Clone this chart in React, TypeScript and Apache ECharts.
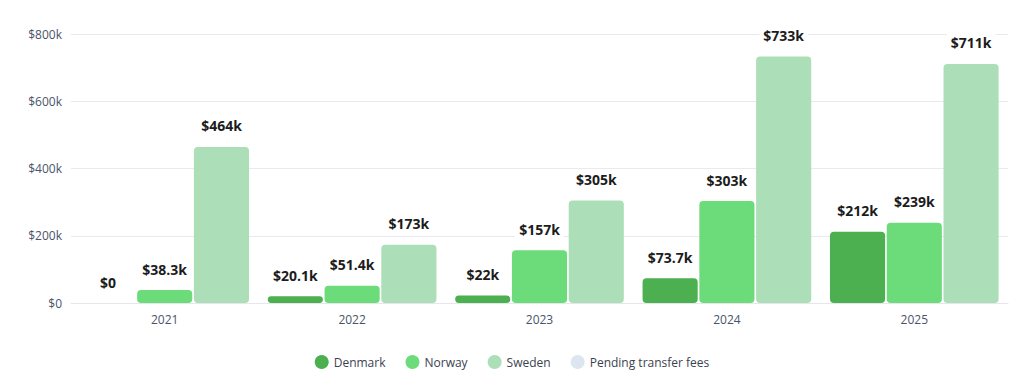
import React, { useEffect, useRef } from "react";
import * as echarts from "echarts";

const years = ["2021", "2022", "2023", "2024", "2025"];
const denmark = [0, 20100, 22000, 73700, 212000];
const norway = [38300, 51400, 157000, 303000, 239000];
const sweden = [464000, 173000, 305000, 733000, 711000];
const pending: (number | null)[] = [null, null, null, null, null];
const yTicks = [0, 200000, 400000, 600000, 800000];

const FONT = "'Open Sans', 'Noto Sans', sans-serif";

function fmt(v: number): string {
  if (v === 0) return "$0";
  const k = v / 1000;
  const s = parseFloat(k.toPrecision(3)).toString();
  return "$" + s + "k";
}

const label = {
  show: true,
  position: "top" as const,
  distance: 12,
  formatter: (p: any) => fmt(p.value),
  fontFamily: FONT,
  fontSize: 14,
  fontWeight: "bold" as const,
  color: "#1c1c1c",
  backgroundColor: "#ffffff",
  padding: [2, 4],
};

export default function App() {
  const ref = useRef<HTMLDivElement>(null);
  useEffect(() => {
    if (!ref.current) return;
    const chart = echarts.init(ref.current, undefined, { renderer: "svg" });
    chart.setOption({
      animation: false,
      grid: { left: 63, right: 8, top: 26, bottom: 75 },
      legend: {
        bottom: 4,
        left: "center",
        icon: "circle",
        itemWidth: 14,
        itemHeight: 14,
        itemGap: 20,
        textStyle: { fontFamily: FONT, fontSize: 12, color: "#3a4250" },
        data: ["Denmark", "Norway", "Sweden", "Pending transfer fees"],
      },
      xAxis: {
        type: "category",
        data: years,
        axisTick: { show: false },
        axisLine: { lineStyle: { color: "#e6e6ec" } },
        axisLabel: { fontFamily: FONT, fontSize: 12, color: "#4a5468", margin: 10 },
      },
      yAxis: {
        type: "value",
        min: 0,
        max: yTicks[yTicks.length - 1],
        interval: yTicks[1] - yTicks[0],
        axisLabel: {
          fontFamily: FONT,
          fontSize: 12,
          color: "#4a5468",
          margin: 9,
          formatter: (v: number) => (v === 0 ? "$0" : "$" + v / 1000 + "k"),
        },
        splitLine: { lineStyle: { color: "#e9e9ef" } },
        axisLine: { show: false },
        axisTick: { show: false },
      },
      series: [
        {
          name: "Denmark",
          type: "bar",
          data: denmark,
          barGap: "3%",
          barCategoryGap: "10%",
          itemStyle: { color: "#4caf50", borderRadius: 4 },
          label,
        },
        {
          name: "Norway",
          type: "bar",
          data: norway,
          itemStyle: { color: "#6cdb79", borderRadius: 4 },
          label,
        },
        {
          name: "Sweden",
          type: "bar",
          stack: "sw",
          data: sweden,
          itemStyle: { color: "#acdfb7", borderRadius: 4 },
          label,
        },
        {
          name: "Pending transfer fees",
          type: "bar",
          stack: "sw",
          data: pending,
          itemStyle: { color: "#dde6ef", borderRadius: 4 },
        },
      ],
    });
    return () => chart.dispose();
  }, []);
  return <div ref={ref} style={{ width: 1008, height: 370 }} />;
}
